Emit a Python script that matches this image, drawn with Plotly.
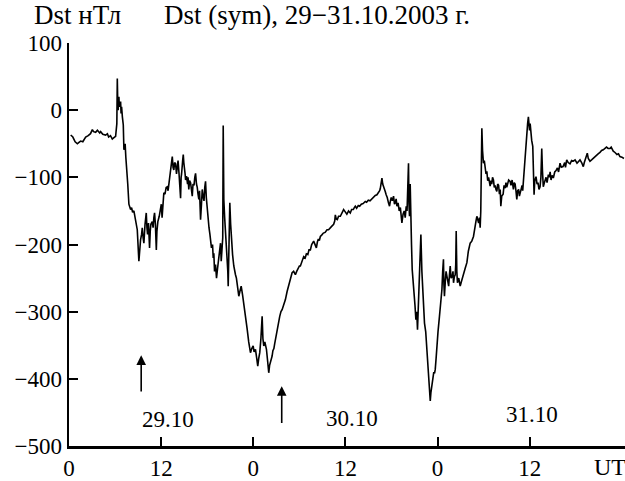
import plotly.graph_objects as go

# SYM-H (Dst sym); time in UT hours from 29.10.2003 00 UT
hours_29 = [0.22, 0.5, 0.8, 1.09, 1.3, 1.52, 1.8, 2.17, 2.5, 2.8, 3.04, 3.2, 3.47, 3.7, 4.0, 4.12, 4.4, 4.77, 5.0,
            5.16, 5.4, 5.64, 5.85, 6.07, 6.23, 6.29, 6.35, 6.40, 6.50, 6.55, 6.61, 6.72, 6.78, 6.85, 6.95, 7.07,
            7.15, 7.31, 7.40, 7.50, 7.65, 7.80, 8.02, 8.15, 8.28, 8.45, 8.67, 8.89, 9.10, 9.2, 9.32, 9.45, 9.54,
            9.65, 9.75, 9.9, 10.06, 10.15, 10.23, 10.35, 10.49, 10.58, 10.66, 10.84, 10.95, 11.05, 11.14, 11.25,
            11.37, 11.45, 11.57, 11.75, 11.92, 12.02, 12.12, 12.25, 12.35, 12.5, 12.65, 12.80, 12.9, 13.03, 13.12,
            13.22, 13.35, 13.45, 13.55, 13.65, 13.75, 13.88, 14.0, 14.10, 14.2, 14.33, 14.45, 14.53, 14.6, 14.66,
            14.8, 14.88, 14.95, 15.05, 15.12, 15.18, 15.3, 15.44, 15.5, 15.60, 15.7, 15.83, 15.95, 16.05, 16.15,
            16.28, 16.38, 16.48, 16.6, 16.70, 16.8, 16.91, 17.0, 17.13, 17.25, 17.35, 17.45, 17.58, 17.68, 17.78,
            17.88, 18.00, 18.1, 18.23, 18.35, 18.43, 18.55, 18.69, 18.78, 18.86, 18.95, 19.08, 19.21, 19.35, 19.51,
            19.6, 19.73, 19.82, 19.92, 20.02, 20.08, 20.12, 20.16, 20.27, 20.38, 20.5, 20.60, 20.68, 20.73, 20.8,
            20.88, 20.94, 21.05, 21.16, 21.3, 21.46, 21.55, 21.68, 21.8, 21.90, 22.0, 22.11, 22.25, 22.42, 22.6,
            22.76, 22.98, 23.20, 23.4, 23.63, 23.8, 23.98]
dst_29 = [-37, -40, -47, -50, -48, -46, -47, -40, -38, -35, -29, -32, -33, -30, -34, -32, -36, -37, -35,
          -40, -38, -43, -41, -39, -20, 47, 10, 0, 20, 5, 8, 13, -5, 5, -10, -22,
          -59, -50, -70, -94, -110, -140, -148, -145, -152, -150, -162, -178, -225, -200, -193, -185, -175,
          -190, -198, -170, -153, -175, -185, -168, -205, -180, -170, -166, -175, -160, -153, -170,
          -208, -180, -166, -158, -148, -140, -160, -135, -123, -125, -115, -114, -120, -108, -100,
          -94, -80, -69, -85, -89, -78, -80, -95, -84, -75, -95, -110, -131, -100, -95,
          -75, -66, -78, -85, -95, -104, -98, -110, -100, -118, -105, -108, -120, -128, -110,
          -112, -100, -94, -110, -115, -125, -133, -120, -163, -140, -118, -128, -135, -115, -106,
          -130, -151, -165, -175, -185, -193, -205, -200, -220, -213, -240, -230, -250, -235, -217,
          -205, -198, -225, -210, -190, -23, -100, -133, -160, -182, -195, -208, -240, -262, -200,
          -160, -138, -170, -198, -215, -232, -240, -245, -250, -257, -268, -277, -270, -262, -275,
          -287, -305, -326, -345, -361, -355, -351]

hours_30 = [24.1, 24.28, 24.45, 24.58, 24.7, 24.84, 24.99, 25.08, 25.15, 25.25, 25.36, 25.5, 25.71, 25.85, 26.01,
            26.12, 26.23, 26.35, 26.45, 26.55, 26.68, 26.78, 26.88, 27.05, 27.18, 27.3, 27.44, 27.6, 27.75, 27.95,
            28.18, 28.4, 28.61, 28.8, 29.05, 29.25, 29.48, 29.65, 29.87, 30.0, 30.13, 30.35, 30.56, 30.75, 30.91,
            31.1, 31.25, 31.43, 31.6, 31.86, 32.0, 32.21, 32.35, 32.47, 32.6, 32.73, 32.9, 33.12, 33.35, 33.60,
            33.8, 34.03, 34.2, 34.46, 34.6, 34.68, 34.8, 34.94, 35.1, 35.33, 35.5, 35.76, 35.95, 36.18, 36.4,
            36.63, 36.8, 37.02, 37.15, 37.28, 37.45, 37.67, 37.85, 38.06, 38.3, 38.58, 38.75, 38.97, 39.2, 39.45,
            39.65, 39.88, 40.1, 40.31, 40.45, 40.53, 40.65, 40.75, 40.85, 40.92, 41.05, 41.18, 41.3, 41.44, 41.6,
            41.74, 41.85, 41.96, 42.1, 42.26, 42.38, 42.48, 42.6, 42.70, 42.85, 43.00, 43.15, 43.35, 43.5, 43.65,
            43.78, 43.91, 44.02, 44.11, 44.21, 44.27, 44.34, 44.43, 44.52, 44.6, 44.69, 44.8, 44.95, 45.05, 45.17,
            45.28, 45.38, 45.5, 45.60, 45.7, 45.82, 45.95, 46.09, 46.2, 46.29, 46.45, 46.61, 46.7, 46.81, 46.92,
            47.04, 47.13, 47.23, 47.32, 47.39, 47.5, 47.6, 47.69, 47.8, 47.91]
dst_30 = [-360, -356, -370, -381, -370, -361, -340, -320, -307, -340, -351, -345, -356, -372, -391,
          -380, -375, -372, -366, -358, -355, -348, -341, -335, -326, -318, -307, -300, -297, -290,
          -282, -270, -260, -250, -242, -240, -245, -240, -236, -232, -232, -225, -218, -220, -214,
          -215, -208, -208, -200, -195, -199, -205, -196, -192, -194, -188, -186, -183, -182, -178,
          -178, -174, -173, -170, -165, -156, -162, -163, -158, -158, -154, -148, -151, -155, -150,
          -153, -148, -148, -145, -143, -146, -142, -143, -140, -139, -136, -137, -134, -135, -132,
          -130, -127, -126, -123, -120, -117, -110, -101, -110, -112, -118, -121, -126, -130, -138,
          -143, -135, -130, -135, -128, -140, -138, -132, -143, -138, -150, -145, -168, -155, -150,
          -160, -143, -150, -120, -79, -140, -158, -110, -183, -200, -237, -250, -277, -290, -312,
          -300, -327, -290, -257, -220, -185, -240, -277, -300, -317, -330, -356, -375, -396, -415,
          -433, -420, -410, -400, -396, -390, -392, -386, -370, -346]

hours_31 = [48.05, 48.24, 48.4, 48.56, 48.66, 48.76, 48.82, 48.89, 49.0, 49.1, 49.21, 49.32, 49.44, 49.54, 49.64,
            49.75, 49.90, 50.0, 50.07, 50.18, 50.29, 50.36, 50.42, 50.5, 50.58, 50.75, 50.94, 51.1, 51.37, 51.6,
            51.81, 52.0, 52.24, 52.45, 52.67, 52.85, 53.0, 53.11, 53.22, 53.34, 53.45, 53.54, 53.62, 53.67, 53.72,
            53.76, 53.85, 53.97, 54.08, 54.19, 54.3, 54.41, 54.52, 54.64, 54.75, 54.84, 54.95, 55.05, 55.15, 55.27,
            55.38, 55.49, 55.6, 55.71, 55.82, 55.94, 56.05, 56.15, 56.23, 56.35, 56.53, 56.65, 56.79, 56.9, 57.0,
            57.11, 57.25, 57.44, 57.55, 57.7, 57.87, 57.98, 58.09, 58.2, 58.31, 58.42, 58.55, 58.65, 58.74, 58.87,
            59.00, 59.08, 59.17, 59.3, 59.48, 59.56, 59.65, 59.72, 59.82, 59.9, 59.97, 60.05, 60.13, 60.25, 60.39,
            60.47, 60.56, 60.65, 60.81, 60.95, 61.07, 61.2, 61.34, 61.45, 61.56, 61.65, 61.76, 61.9, 62.0, 62.12,
            62.25, 62.42, 62.55, 62.65, 62.77, 62.9, 63.07, 63.25, 63.42, 63.6, 63.75, 63.94, 64.1, 64.33, 64.55,
            64.65, 64.81, 65.0, 65.24, 65.45, 65.67, 65.9, 66.15, 66.35, 66.54, 66.75, 66.97, 67.1, 67.26, 67.38,
            67.49, 67.62, 67.84, 68.05, 68.23, 68.45, 68.71, 68.9, 69.14, 69.35, 69.57, 69.8, 69.99, 70.2, 70.44,
            70.6, 70.87, 71.1, 71.35, 71.55, 71.74, 72.0, 72.26]
dst_31 = [-330, -307, -290, -267, -240, -222, -260, -277, -255, -240, -247, -255, -262, -245, -232,
          -250, -248, -240, -257, -248, -245, -230, -180, -240, -257, -250, -262, -255, -242, -235,
          -227, -210, -198, -195, -188, -172, -165, -158, -165, -168, -160, -175, -150, -120, -60,
          -27, -60, -79, -75, -85, -95, -91, -105, -100, -108, -113, -105, -110, -100, -104,
          -115, -112, -118, -121, -110, -112, -125, -118, -143, -128, -125, -112, -116, -108, -115,
          -110, -104, -106, -112, -104, -118, -108, -110, -120, -133, -120, -118, -128, -123, -115,
          -112, -120, -104, -85, -52, -40, -35, -20, -10, -25, -30, -20, -34, -45, -54,
          -80, -126, -105, -99, -110, -108, -118, -114, -100, -57, -90, -114, -108, -104, -100,
          -108, -96, -100, -92, -104, -97, -101, -92, -90, -86, -92, -79, -85, -84, -78,
          -85, -74, -78, -80, -75, -76, -74, -79, -76, -74, -78, -84, -78, -72, -68,
          -64, -72, -76, -74, -72, -69, -66, -65, -63, -60, -59, -56, -55, -57, -57,
          -55, -61, -63, -66, -65, -69, -70, -72]

x_tickvals = [0, 12, 24, 36, 48, 60]
x_ticktext = ["0", "12", "0", "12", "0", "12"]
y_tickvals = [-500, -400, -300, -200, -100, 0, 100]
y_ticktext = ["\u2212500", "\u2212400", "\u2212300", "\u2212200", "\u2212100", "0", "100"]

day_labels = ["29.10", "30.10", "31.10"]
day_label_x = [12.9, 36.8, 60.3]
day_label_y = [-461, -459, -453]

arrow_x = [9.4, 27.7]
arrow_tail = [-421, -468]
arrow_head = [-365, -411]

FONT = "Liberation Serif, DejaVu Serif, serif"

hours = hours_29 + hours_30 + hours_31
dst = dst_29 + dst_30 + dst_31

fig = go.Figure()
fig.add_trace(go.Scatter(x=hours, y=dst, mode="lines",
                         line=dict(color="black", width=1.6), showlegend=False, hoverinfo="skip"))

for lab, lx, ly in zip(day_labels, day_label_x, day_label_y):
    fig.add_annotation(x=lx, y=ly, xref="x", yref="y", text=lab, showarrow=False,
                       font=dict(family=FONT, size=23, color="black"))

for axx, t, h in zip(arrow_x, arrow_tail, arrow_head):
    fig.add_annotation(x=axx, y=h, ax=axx, ay=t, xref="x", yref="y", axref="x", ayref="y",
                       text="", showarrow=True, arrowhead=2, arrowsize=1.2, arrowwidth=1.6,
                       arrowcolor="black")

fig.add_annotation(x=70.4, y=0, xref="x", yref="paper", yanchor="top", yshift=-6, text="UT",
                   showarrow=False, font=dict(family=FONT, size=24, color="black"))
fig.add_annotation(x=-0.067, y=1.07, xref="paper", yref="paper", xanchor="left", yanchor="middle",
                   text="Dst нТл", showarrow=False, font=dict(family=FONT, size=27, color="black"))
fig.add_annotation(x=0.1667, y=1.07, xref="paper", yref="paper", xanchor="left", yanchor="middle",
                   text="Dst (sym), 29\u221231.10.2003 г.", showarrow=False,
                   font=dict(family=FONT, size=27, color="black"))

fig.update_layout(
    width=625, height=481,
    margin=dict(l=69, r=0, t=43, b=35),
    paper_bgcolor="white", plot_bgcolor="white",
    font=dict(family=FONT, size=23, color="black"),
    xaxis=dict(range=[0, 72.4], tickvals=x_tickvals, ticktext=x_ticktext,
               ticks="inside", ticklen=9, tickwidth=2, tickcolor="black",
               showline=True, linewidth=2.5, linecolor="black", showgrid=False, zeroline=False,
               tickfont=dict(family=FONT, size=23, color="black")),
    yaxis=dict(range=[-500, 100], tickvals=y_tickvals, ticktext=y_ticktext,
               ticks="inside", ticklen=9, tickwidth=2, tickcolor="black",
               showline=True, linewidth=2.5, linecolor="black", showgrid=False, zeroline=False,
               tickfont=dict(family=FONT, size=23, color="black")),
)

fig.write_html("out.html", config={"displayModeBar": False, "staticPlot": True},
               post_script="document.body.style.margin='0';document.documentElement.style.overflow='hidden';")
